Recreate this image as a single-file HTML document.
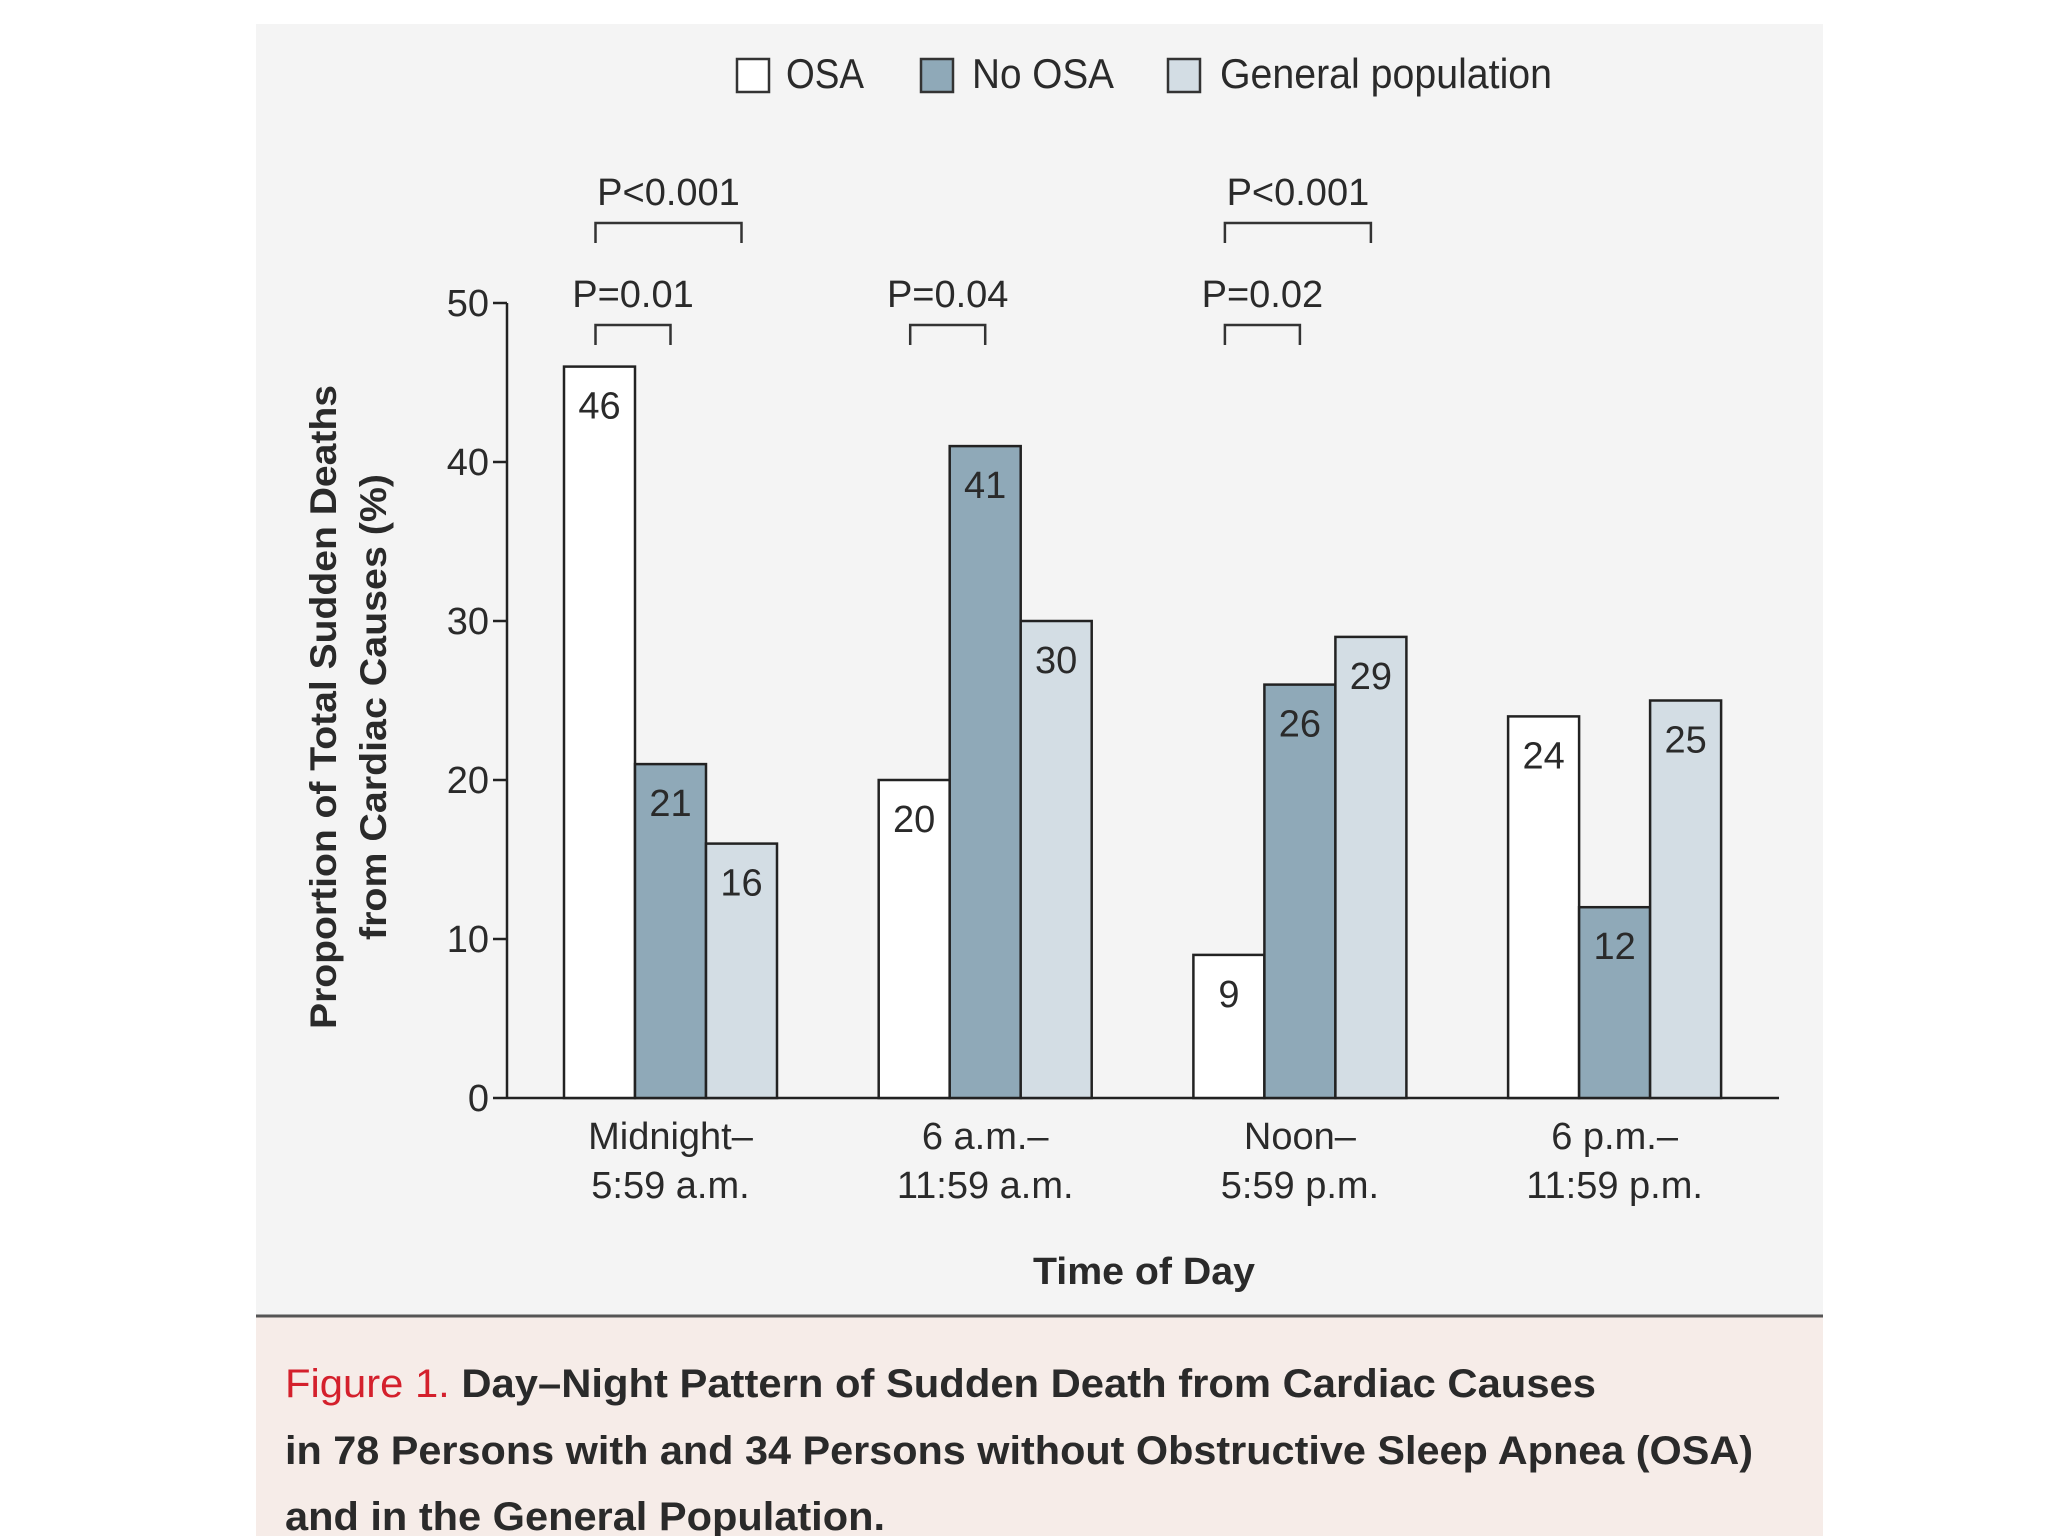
<!DOCTYPE html>
<html><head><meta charset="utf-8"><style>
html,body{margin:0;padding:0;background:#fff}
svg{display:block}
text{font-family:"Liberation Sans",sans-serif;fill:#2a2a2a}
</style></head><body>
<svg id="chart" width="2048" height="1536" viewBox="0 0 2048 1536">
<rect x="256" y="24" width="1567" height="1292" fill="#f4f4f4"/>
<rect x="256" y="1316" width="1567" height="220" fill="#f6ece8"/>
<line x1="256" y1="1316" x2="1823" y2="1316" stroke="#555" stroke-width="3"/>
<g>
 <g><rect x="737" y="59" width="32" height="33" fill="#fff" stroke="#333" stroke-width="2.5"/><text x="786" y="88" font-size="42" textLength="78" lengthAdjust="spacingAndGlyphs">OSA</text></g>
 <g><rect x="921" y="59" width="32" height="33" fill="#8fa9b8" stroke="#333" stroke-width="2.5"/><text x="972" y="88" font-size="42" textLength="142" lengthAdjust="spacingAndGlyphs">No OSA</text></g>
 <g><rect x="1168" y="59" width="32" height="33" fill="#d3dde4" stroke="#333" stroke-width="2.5"/><text x="1220" y="88" font-size="42" textLength="332" lengthAdjust="spacingAndGlyphs">General population</text></g>
</g>
<g id="axes"></g>
<g id="bars"></g>
<g id="pvals"></g>
<text x="1144" y="1284" font-size="38" font-weight="bold" text-anchor="middle" textLength="222" lengthAdjust="spacingAndGlyphs">Time of Day</text>
<g transform="translate(324,707) rotate(-90)">
 <text x="0" y="12" font-size="37" font-weight="bold" text-anchor="middle" textLength="644" lengthAdjust="spacingAndGlyphs">Proportion of Total Sudden Deaths</text>
 <text x="0" y="62" font-size="37" font-weight="bold" text-anchor="middle" textLength="466" lengthAdjust="spacingAndGlyphs">from Cardiac Causes (%)</text>
</g>
<g>
 <text x="285" y="1397" font-size="40" font-weight="bold" textLength="1311" lengthAdjust="spacingAndGlyphs"><tspan fill="#d4202c" font-weight="normal">Figure 1.</tspan> Day–Night Pattern of Sudden Death from Cardiac Causes</text>
 <text x="285" y="1464" font-size="40" font-weight="bold" textLength="1468" lengthAdjust="spacingAndGlyphs">in 78 Persons with and 34 Persons without Obstructive Sleep Apnea (OSA)</text>
 <text x="285" y="1530" font-size="40" font-weight="bold" textLength="600" lengthAdjust="spacingAndGlyphs">and in the General Population.</text>
</g>
</svg>
<script>
const categories1 = ["Midnight–","6 a.m.–","Noon–","6 p.m.–"];
const categories2 = ["5:59 a.m.","11:59 a.m.","5:59 p.m.","11:59 p.m."];
const osaValues = [46,20,9,24];
const noOsaValues = [21,41,26,12];
const generalValues = [16,30,29,25];
const yTicks = [0,10,20,30,40,50];
const pLabels = ["P=0.01","P<0.001","P=0.04","P=0.02","P<0.001"];
const pGroups = [0,0,1,2,2];
const pToSeries = [1,2,1,1,2];
const pLevel = [0,1,0,0,1];

const NS="http://www.w3.org/2000/svg";
const y0=1098, yTop=303, axisX=507, axisEnd=1779;
const groupStart0=564, groupStep=314.7, barW=71;
function y(v){return y0-(v/50)*(y0-yTop);}
function gx(i){return groupStart0+i*groupStep;}
function bx(i,s){return gx(i)+s*barW;}
function mk(tag,attrs,parent){const e=document.createElementNS(NS,tag);for(const k in attrs)e.setAttribute(k,attrs[k]);parent.appendChild(e);return e;}

const axes=document.getElementById('axes');
let yl=mk('line',{x1:axisX,y1:yTop,x2:axisX,y2:y0,stroke:'#222','stroke-width':2.5},axes);


let xl=mk('line',{x1:axisX,y1:y0,x2:axisEnd,y2:y0,stroke:'#222','stroke-width':2.5},axes);


yTicks.forEach(t=>{
  const tk=mk('line',{x1:axisX-14,y1:y(t),x2:axisX,y2:y(t),stroke:'#222','stroke-width':2.5},axes);
  
  
  const tl=mk('text',{x:axisX-18,y:y(t)+13,'font-size':38,'text-anchor':'end'},axes);
  tl.textContent=t;
  
  
});
categories1.forEach((c,i)=>{
  const cx=bx(i,1)+barW/2;
  const t1=mk('text',{x:cx,y:1149,'font-size':38,'text-anchor':'middle'},axes);
  t1.textContent=c;
  
  
  const t2=mk('text',{x:cx,y:1198,'font-size':38,'text-anchor':'middle'},axes);
  t2.textContent=categories2[i];
  
  
});

const bars=document.getElementById('bars');
const series=[osaValues,noOsaValues,generalValues];
const fills=['#ffffff','#8fa9b8','#d3dde4'];
const names=['osa','no-osa','general'];
series.forEach((vals,s)=>{
  vals.forEach((v,i)=>{
    const r=mk('rect',{x:bx(i,s),y:y(v),width:barW,height:y0-y(v),fill:fills[s],stroke:'#222','stroke-width':2.5},bars);
    
    
    const t=mk('text',{x:bx(i,s)+barW/2,y:y(v)+52,'font-size':38,'text-anchor':'middle'},bars);
    t.textContent=v;
    
    
  });
});

const pv=document.getElementById('pvals');
pLabels.forEach((lab,k)=>{
  const g=pGroups[k];
  const xa=bx(g,0)+barW/2-4, xb=bx(g,pToSeries[k])+barW/2;
  const top=pLevel[k]?223:325, bot=top+20;
  const p=mk('path',{d:`M${xa},${bot}V${top}H${xb}V${bot}`,fill:'none',stroke:'#333','stroke-width':2.5},pv);
  
  
  const t=mk('text',{x:(xa+xb)/2,y:top-18,'font-size':38,'text-anchor':'middle'},pv);
  t.textContent=lab;
  
  
});
</script>
</body></html>
